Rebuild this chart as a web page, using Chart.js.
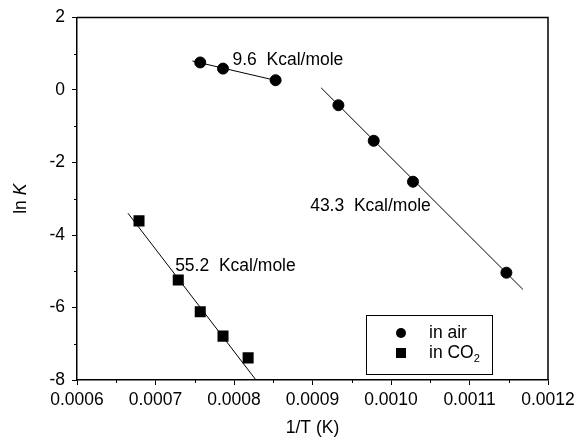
<!DOCTYPE html>
<html>
<head>
<meta charset="utf-8">
<script src="https://cdn.jsdelivr.net/npm/chart.js@4.4.0/dist/chart.umd.min.js"></script>
<style>
  html, body { margin: 0; padding: 0; background: #fff; }
  #wrap { width: 585px; height: 439px; }
</style>
</head>
<body>
<div id="wrap"><canvas id="chart" width="585" height="439"></canvas></div>
<script>
// measured points
const airX = [0.000757, 0.000786, 0.000853, 0.000933, 0.000978, 0.001028, 0.001147];
const airY = [0.76, 0.59, 0.27, -0.42, -1.40, -2.53, -5.04];
const co2X = [0.000679, 0.000729, 0.000757, 0.000786, 0.000818];
const co2Y = [-3.61, -5.24, -6.12, -6.79, -7.39];

// fitted lines (end points)
const fitLowX = [0.000747, 0.000860];
const fitLowY = [0.80, 0.23];
const fitAirX = [0.000911, 0.001168];
const fitAirY = [0.06, -5.5];
const fitCo2X = [0.000665, 0.000828];
const fitCo2Y = [-3.40, -8];

// activation energy labels
const energyLabels = ["9.6  Kcal/mole", "43.3  Kcal/mole", "55.2  Kcal/mole"];
const labelX = [0.000798, 0.000897, 0.000725];
const labelY = [0.82, -3.2, -4.86];

const seriesNames = ["in air", "in CO", "2"];

const xTicks = [0.0006, 0.0007, 0.0008, 0.0009, 0.0010, 0.0011, 0.0012];
const xMinor = [0.00065, 0.00075, 0.00085, 0.00095, 0.00105, 0.00115];
const yTicks = [-8, -6, -4, -2, 0, 2];
const yMinor = [-7, -5, -3, -1, 1];

const FONT = "'Liberation Sans', Arial, sans-serif";
const FS = 17.5;

function pts(xs, ys) {
  return xs.map((x, i) => ({ x: x, y: ys[i] }));
}

function fitLine(xs, ys) {
  return {
    data: pts(xs, ys),
    showLine: true,
    borderColor: "#000",
    borderWidth: 1,
    pointRadius: 0,
    order: 2,
  };
}

// frame, minor ticks, y title, text labels and legend
const extras = {
  id: "extras",
  afterDatasetsDraw(chart) {
    const { ctx, chartArea: a, scales } = chart;
    const sx = scales.x, sy = scales.y;
    ctx.save();
    ctx.strokeStyle = "#000";
    ctx.lineWidth = 1.5;
    ctx.beginPath();
    ctx.moveTo(a.left, a.top);
    ctx.lineTo(a.right, a.top);
    ctx.lineTo(a.right, a.bottom);
    ctx.stroke();

    ctx.lineWidth = 1;
    ctx.beginPath();
    xMinor.forEach((v) => {
      const px = Math.round(sx.getPixelForValue(v)) + 0.5;
      ctx.moveTo(px, a.bottom);
      ctx.lineTo(px, a.bottom + 3);
    });
    yMinor.forEach((v) => {
      const py = Math.round(sy.getPixelForValue(v)) + 0.5;
      ctx.moveTo(a.left, py);
      ctx.lineTo(a.left - 3, py);
    });
    ctx.stroke();

    ctx.fillStyle = "#000";
    ctx.font = FS + "px " + FONT;
    ctx.textBaseline = "middle";
    ctx.textAlign = "left";
    energyLabels.forEach((t, i) => {
      ctx.fillText(t, sx.getPixelForValue(labelX[i]), sy.getPixelForValue(labelY[i]));
    });

    // y title "ln K"
    ctx.save();
    ctx.translate(21, (a.top + a.bottom) / 2);
    ctx.rotate(-Math.PI / 2);
    ctx.font = FS + "px " + FONT;
    const w1 = ctx.measureText("ln ").width;
    ctx.font = "italic " + FS + "px " + FONT;
    const w2 = ctx.measureText("K").width;
    const x0 = -(w1 + w2) / 2;
    ctx.font = FS + "px " + FONT;
    ctx.fillText("ln ", x0, 0);
    ctx.font = "italic " + FS + "px " + FONT;
    ctx.fillText("K", x0 + w1, 0);
    ctx.restore();

    // legend box
    const bx = a.right - 182, by = a.bottom - 65, bw = 126, bh = 59;
    ctx.lineWidth = 1;
    ctx.strokeRect(bx + 0.5, by + 0.5, bw, bh);
    const mx = bx + 35, tx = bx + 63;
    ctx.beginPath();
    ctx.arc(mx, by + 18, 5, 0, Math.PI * 2);
    ctx.fill();
    ctx.fillRect(mx - 5, by + 38 - 5, 10, 10);
    ctx.font = FS + "px " + FONT;
    ctx.fillText(seriesNames[0], tx, by + 18);
    ctx.fillText(seriesNames[1], tx, by + 38);
    const wc = ctx.measureText(seriesNames[1]).width;
    ctx.font = "11px " + FONT;
    ctx.fillText(seriesNames[2], tx + wc, by + 44);
    ctx.restore();
  },
};

new Chart(document.getElementById("chart"), {
  type: "scatter",
  data: {
    datasets: [
      {
        data: pts(airX, airY),
        pointStyle: "circle",
        pointRadius: 5.5,
        backgroundColor: "#000",
        borderColor: "#000",
        order: 0,
      },
      {
        data: pts(co2X, co2Y),
        pointStyle: "rect",
        pointRadius: 7.8,
        backgroundColor: "#000",
        borderColor: "#000",
        borderWidth: 0,
        order: 0,
      },
      fitLine(fitLowX, fitLowY),
      fitLine(fitAirX, fitAirY),
      fitLine(fitCo2X, fitCo2Y),
    ],
  },
  options: {
    responsive: false,
    animation: false,
    layout: { padding: { left: 0, top: 17, right: 37, bottom: 0 } },
    plugins: { legend: { display: false }, tooltip: { enabled: false } },
    scales: {
      x: {
        type: "linear",
        min: 0.0006,
        max: 0.0012,
        afterBuildTicks: (s) => { s.ticks = xTicks.map((v) => ({ value: v })); },
        afterFit: (s) => { s.height = 59; },
        grid: { drawOnChartArea: false, drawTicks: true, tickLength: 5, tickColor: "#000", tickWidth: 1 },
        border: { display: true, color: "#000", width: 1.5 },
        ticks: {
          color: "#000",
          padding: 5,
          maxRotation: 0,
          font: { family: FONT, size: FS },
          callback: (v) => Number(v).toFixed(4),
        },
        title: {
          display: true,
          text: "1/T (K)",
          color: "#000",
          padding: { top: 4, bottom: 0 },
          font: { family: FONT, size: FS },
        },
      },
      y: {
        type: "linear",
        min: -8,
        max: 2,
        afterBuildTicks: (s) => { s.ticks = yTicks.map((v) => ({ value: v })); },
        afterFit: (s) => { s.width = 77; },
        grid: { drawOnChartArea: false, drawTicks: true, tickLength: 5, tickColor: "#000", tickWidth: 1 },
        border: { display: true, color: "#000", width: 1.5 },
        ticks: {
          color: "#000",
          padding: 7,
          font: { family: FONT, size: FS },
          callback: (v) => String(v),
        },
      },
    },
  },
  plugins: [extras],
});
</script>
</body>
</html>
